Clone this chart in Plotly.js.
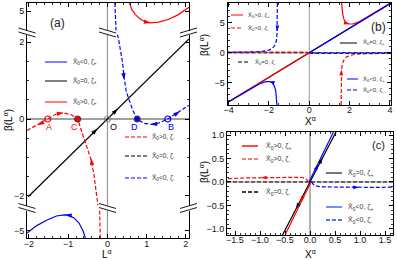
<!DOCTYPE html>
<html><head><meta charset="utf-8">
<script src="https://cdn.plot.ly/plotly-3.0.1.min.js"></script>
<style>html,body{margin:0;padding:0;background:#fff}#chart{width:397px;height:260px}</style>
</head><body><div id="chart"></div>
<script>
// ---------------- DATA ----------------
// Panel (a): beta(L) vs L, broken y axis
const aDiagL = [-2.02, 2.08];
const aDiagB = [-2.02, 2.08];
const aRedDashL = [-2.05, -1.8, -1.52, -1.3, -1.12, -0.92, -0.76, -0.68, -0.6, -0.5, -0.42, -0.35, -0.3, -0.26, -0.24];
const aRedDashB = [-0.3, -0.16, 0, 0.13, 0.16, 0.11, 0, -0.25, -0.5, -0.8, -1.05, -1.4, -1.75, -2.1, -2.25];
const aRedDashLowL = [-0.2, -0.18];
const aRedDashLowB = [-4.47, -5.18];
const aBlueDashL = [0.25, 0.28, 0.33, 0.38, 0.43, 0.48, 0.56, 0.65, 0.76, 0.92, 1.12, 1.32, 1.54, 1.8, 2.08];
const aBlueDashB = [2.2, 2.1, 1.8, 1.5, 1.05, 0.72, 0.47, 0.22, 0, -0.11, -0.14, -0.1, 0, 0.17, 0.36];
const aBlueDashTopL = [0.19, 0.22];
const aBlueDashTopB = [5.21, 4.49];
const aRedSolidTopL = [0.56, 0.62, 0.72, 0.85, 1.0, 1.1, 1.3, 1.55, 1.8, 2.08];
const aRedSolidTopB = [5.22, 5.04, 4.9, 4.78, 4.71, 4.69, 4.71, 4.78, 4.9, 5.1];
const aBlueSolidLowL = [-0.56, -0.62, -0.72, -0.85, -1.0, -1.1, -1.3, -1.55, -1.8, -2.05];
const aBlueSolidLowB = [-5.19, -5.0, -4.8, -4.66, -4.59, -4.58, -4.61, -4.72, -4.86, -5.05];
const aPtL = [-1.52, -0.76, 0, 0.76, 1.54];
const aPtB = [0, 0, 0, 0, 0];
const aPtLabels = ['A', 'C', 'O', 'D', 'B'];
// arrows: [tailX, tailY, headX, headY]
const aArrBlack = [[0.15, 0.15, 0.27, 0.27], [-0.37, -0.37, -0.25, -0.25]];
const aArrRedDash = [[-1.65, -0.09, -1.78, -0.16], [-1.25, 0.14, -1.12, 0.16], [-0.38, -1.25, -0.42, -1.02]];
const aArrBlueDash = [[0.4, 1.25, 0.43, 1.02], [1.25, -0.13, 1.1, -0.14], [1.7, 0.1, 1.85, 0.2]];
const aArrRedTop = [[0.95, 4.72, 1.1, 4.69]];
const aArrBlueLow = [[-0.93, -4.6, -1.08, -4.58]];

// Panel (b): beta vs X (wide)
const bDiagX = [-4.05, 4.05];
const bDiagB = [-8.3, 8.3];
const bRedDiagX = [-4.05, 0];
const bRedDiagB = [-8.3, 0];
const bRedSolidX = [1.6, 1.62, 1.66, 1.72, 1.82, 1.95, 2.15, 2.45, 2.9, 3.5, 4.05];
const bRedSolidB = [8.3, 7.4, 6.4, 5.6, 5.05, 4.8, 4.8, 5.15, 6.0, 7.2, 8.3];
const bBlueDiagX = [0, 4.05];
const bBlueDiagB = [0, 8.3];
const bBlueSolidX = [-1.6, -1.62, -1.66, -1.72, -1.82, -1.95, -2.15, -2.45, -2.9, -3.5, -4.05];
const bBlueSolidB = [-8.7, -7.4, -6.4, -5.6, -5.05, -4.8, -4.8, -5.15, -6.0, -7.2, -8.3];
const bBlueDashX = [-1.58, -1.58, -1.6, -1.63, -1.7, -1.82, -2.0, -2.3, -2.8, -4.05];
const bBlueDashB = [8.3, 5, 3, 2, 1.3, 0.75, 0.45, 0.25, 0.15, 0.08];
const bBlueDashRX = [0, 0.1, 0.3, 1, 4.05];
const bBlueDashRB = [0, -0.08, -0.1, -0.11, -0.1];
const bRedDashX = [1.58, 1.58, 1.6, 1.63, 1.7, 1.82, 2.0, 2.3, 2.8, 4.05];
const bRedDashB = [-8.7, -5, -3, -2, -1.3, -0.75, -0.45, -0.25, -0.15, -0.08];
const bRedDashLX = [0, -0.1, -0.3, -1, -4.05];
const bRedDashLB = [0, 0.08, 0.1, 0.11, 0.1];
const bBlackDashX = [-4.05, 4.05];
const bBlackDashB = [0, 0];
const bArrBlueDash = [[-1.58, 4.6, -1.58, 3.6]];
const bArrRedDash = [[1.58, -3.9, 1.6, -2.8]];
const bArrRedSolid = [[1.85, 4.9, 2.0, 4.78]];
const bArrBlueSolid = [[-1.85, -4.9, -2.0, -4.78]];

// Panel (c): beta vs X (zoom near origin)
const cBlackX = [-0.55, 0.52];
const cBlackB = [-1.13, 1.065];
const cBlueX = [-0.02, 0.47];
const cBlueB = [0, 1.065];
const cRedX = [0.02, -0.5];
const cRedB = [0, -1.13];
const cRedDashX = [-0.03, -0.06, -0.1, -0.16, -0.25, -0.5, -0.9, -1.3, -1.66];
const cRedDashB = [0, 0.045, 0.075, 0.095, 0.1, 0.1, 0.095, 0.085, 0.07];
const cBlueDashX = [0.03, 0.06, 0.1, 0.16, 0.25, 0.5, 0.9, 1.3, 1.66];
const cBlueDashB = [0, -0.045, -0.075, -0.095, -0.105, -0.11, -0.115, -0.115, -0.11];
const cBlackDashX = [-1.66, 1.66];
const cBlackDashB = [0, 0];
const cArrBlack = [[0.18, 0.37, 0.25, 0.51], [-0.21, -0.43, -0.28, -0.57]];
const cArrBlue = [[0.1, 0.24, 0.16, 0.37]];
const cArrRed = [[-0.13, -0.28, -0.19, -0.42]];
const cArrRedDash = [[-0.8, 0.097, -0.98, 0.092]];
const cArrBlueDash = [[0.8, -0.115, 0.98, -0.115]];

// legend labels
const legA1 = ['X\u0304<sub>0</sub>&lt;0, ζ<sub>+</sub>', 'X\u0304<sub>0</sub>=0, ζ<sub>+</sub>', 'X\u0304<sub>0</sub>&gt;0, ζ<sub>+</sub>'];
const legA2 = ['X\u0304<sub>0</sub>&gt;0, ζ<sub>-</sub>', 'X\u0304<sub>0</sub>=0, ζ<sub>-</sub>', 'X\u0304<sub>0</sub>&lt;0, ζ<sub>-</sub>'];

// ---------------- STYLE / LAYOUT ----------------
const W = 397, H = 260;
const PX = x => x / W, PY = y => 1 - y / H;
const FONT = 'Liberation Sans, Arial, sans-serif';
const RED = '#ff0000', BLUE = '#0000ff', BLK = '#000000';
const DASH = '4px,2px';
const LW = 1.2;

function line(x, y, color, dash, xa, ya, w) {
  return {type: 'scatter', mode: 'lines', x: x, y: y, xaxis: xa, yaxis: ya,
    line: {color: color, width: w || LW, dash: dash || 'solid'}, hoverinfo: 'skip', showlegend: false};
}
function arrows(list, color, xa, ya, sz) {
  return list.map(a => ({type: 'scatter', mode: 'markers', x: [a[0], a[2]], y: [a[1], a[3]], xaxis: xa, yaxis: ya,
    marker: {symbol: 'arrow', angleref: 'previous', size: [1, sz || 7], opacity: [0, 1], color: color, line: {width: 0}},
    hoverinfo: 'skip', showlegend: false, cliponaxis: false}));
}

let traces = [];
// panel a
traces.push(line(aDiagL, aDiagB, BLK, null, 'x', 'y2'));
traces.push(line(aRedDashL, aRedDashB, RED, DASH, 'x', 'y2'));
traces.push(line(aRedDashLowL, aRedDashLowB, RED, DASH, 'x', 'y'));
traces.push(line(aBlueDashL, aBlueDashB, BLUE, DASH, 'x', 'y2'));
traces.push(line(aBlueDashTopL, aBlueDashTopB, BLUE, DASH, 'x2', 'y3'));
traces.push(line(aRedSolidTopL, aRedSolidTopB, RED, null, 'x2', 'y3'));
traces.push(line(aBlueSolidLowL, aBlueSolidLowB, BLUE, null, 'x', 'y'));
traces.push({type: 'scatter', mode: 'markers', x: aPtL, y: aPtB, xaxis: 'x', yaxis: 'y2',
  marker: {symbol: ['circle-open', 'circle', 'circle-open', 'circle', 'circle-open'], size: 6,
    color: [RED, RED, '#888888', BLUE, BLUE], line: {width: 1.2}}, hoverinfo: 'skip', showlegend: false, cliponaxis: false});
traces = traces.concat(arrows(aArrBlack, BLK, 'x', 'y2'));
traces = traces.concat(arrows(aArrRedDash, RED, 'x', 'y2'));
traces = traces.concat(arrows(aArrBlueDash, BLUE, 'x', 'y2'));
traces = traces.concat(arrows(aArrRedTop, RED, 'x2', 'y3'));
traces = traces.concat(arrows(aArrBlueLow, BLUE, 'x', 'y'));
// panel b
traces.push(line(bBlackDashX, bBlackDashB, BLK, DASH, 'x3', 'y4', 1));
traces.push(line(bDiagX, bDiagB, BLK, null, 'x3', 'y4'));
traces.push(line(bRedDiagX, bRedDiagB, RED, null, 'x3', 'y4'));
traces.push(line(bRedSolidX, bRedSolidB, RED, null, 'x3', 'y4'));
traces.push(line(bRedDashX, bRedDashB, RED, DASH, 'x3', 'y4'));
traces.push(line(bRedDashLX, bRedDashLB, RED, DASH, 'x3', 'y4'));
traces.push(line(bBlueDiagX, bBlueDiagB, BLUE, null, 'x3', 'y4'));
traces.push(line(bBlueSolidX, bBlueSolidB, BLUE, null, 'x3', 'y4'));
traces.push(line(bBlueDashX, bBlueDashB, BLUE, DASH, 'x3', 'y4'));
traces.push(line(bBlueDashRX, bBlueDashRB, BLUE, DASH, 'x3', 'y4'));
traces = traces.concat(arrows(bArrBlueDash, BLUE, 'x3', 'y4', 6));
traces = traces.concat(arrows(bArrRedDash, RED, 'x3', 'y4', 6));
traces = traces.concat(arrows(bArrRedSolid, RED, 'x3', 'y4', 6));
traces = traces.concat(arrows(bArrBlueSolid, BLUE, 'x3', 'y4', 6));
// panel c
traces.push(line(cBlackDashX, cBlackDashB, BLK, DASH, 'x4', 'y5', 1));
traces.push(line(cBlackX, cBlackB, BLK, null, 'x4', 'y5'));
traces.push(line(cRedX, cRedB, RED, null, 'x4', 'y5'));
traces.push(line(cBlueX, cBlueB, BLUE, null, 'x4', 'y5'));
traces.push(line(cRedDashX, cRedDashB, RED, DASH, 'x4', 'y5'));
traces.push(line(cBlueDashX, cBlueDashB, BLUE, DASH, 'x4', 'y5'));
traces = traces.concat(arrows(cArrBlack, BLK, 'x4', 'y5', 6));
traces = traces.concat(arrows(cArrBlue, BLUE, 'x4', 'y5', 6));
traces = traces.concat(arrows(cArrRed, RED, 'x4', 'y5', 6));
traces = traces.concat(arrows(cArrRedDash, RED, 'x4', 'y5', 6));
traces = traces.concat(arrows(cArrBlueDash, BLUE, 'x4', 'y5', 6));

const tickFont = {family: FONT, size: 9, color: '#111'};
function ax(o) {
  return Object.assign({showgrid: false, zeroline: false, showline: true, linecolor: '#000', linewidth: 1,
    ticks: 'inside', ticklen: 4, tickwidth: 1, tickcolor: '#000', tickfont: tickFont, automargin: false,
    fixedrange: true}, o);
}
const minor = (d, len) => ({dtick: d, ticks: 'inside', ticklen: len || 2, tickcolor: '#000', tickwidth: 0.8});

const layout = {
  width: W, height: H, margin: {l: 0, r: 0, t: 0, b: 0}, paper_bgcolor: '#fff', plot_bgcolor: 'rgba(0,0,0,0)',
  showlegend: false, font: {family: FONT},
  // panel a
  xaxis: ax({domain: [PX(27), PX(189)], range: [-2.05, 2.08], anchor: 'y', dtick: 1, tick0: 0, minor: minor(0.2), ticklabelstandoff: -3}),
  xaxis2: ax({domain: [PX(27), PX(189)], range: [-2.05, 2.08], anchor: 'y3', side: 'top', dtick: 1, tick0: 0, showticklabels: false, minor: minor(0.2)}),
  yaxis: ax({domain: [PY(238), PY(210.5)], range: [-5.182, -4.468], anchor: 'x', dtick: 5, tick0: 0, mirror: 'ticks'}),
  yaxis2: ax({domain: [PY(205.5), PY(34.5)], range: [-2.247, 2.195], anchor: 'x', dtick: 2, tick0: 0, mirror: 'ticks', minor: minor(0.5)}),
  yaxis3: ax({domain: [PY(30.5), PY(3)], range: [4.494, 5.208], anchor: 'x2', dtick: 5, tick0: 0, mirror: 'ticks'}),
  // panel b
  xaxis3: ax({domain: [PX(227.5), PX(391)], range: [-4.05, 4.05], anchor: 'y4', dtick: 2, tick0: 0, mirror: 'ticks', minor: minor(0.5), ticklabelstandoff: -4}),
  yaxis4: ax({domain: [PY(105), PY(3)], range: [-8.7, 8.3], anchor: 'x3', dtick: 5, tick0: 0, mirror: 'ticks', minor: minor(1)}),
  // panel c
  xaxis4: ax({domain: [PX(227), PX(393)], range: [-1.66, 1.66], anchor: 'y5', dtick: 0.5, tick0: 0, tickformat: '.1f', mirror: 'ticks', minor: minor(0.1), ticklabelstandoff: -4}),
  yaxis5: ax({domain: [PY(235), PY(132)], range: [-1.13, 1.065], anchor: 'x4', dtick: 0.5, tick0: 0, tickformat: '.1f', mirror: 'ticks', minor: minor(0.1)}),
  shapes: [], annotations: []
};

const S = layout.shapes, A = layout.annotations;
// zero lines
S.push({type: 'line', layer: 'below', xref: 'x domain', x0: 0, x1: 1, yref: 'y2', y0: 0, y1: 0, line: {color: '#444', width: 1}});
S.push({type: 'line', layer: 'below', xref: 'x', x0: 0, x1: 0, yref: 'y domain', y0: 0, y1: 1, line: {color: '#888', width: 1}});
S.push({type: 'line', layer: 'below', xref: 'x', x0: 0, x1: 0, yref: 'y2 domain', y0: 0, y1: 1, line: {color: '#888', width: 1}});
S.push({type: 'line', layer: 'below', xref: 'x2', x0: 0, x1: 0, yref: 'y3 domain', y0: 0, y1: 1, line: {color: '#888', width: 1}});
S.push({type: 'line', layer: 'below', xref: 'x3 domain', x0: 0, x1: 1, yref: 'y4', y0: 0, y1: 0, line: {color: '#999', width: 1}});
S.push({type: 'line', layer: 'below', xref: 'x3', x0: 0, x1: 0, yref: 'y4 domain', y0: 0, y1: 1, line: {color: '#999', width: 1}});
S.push({type: 'line', layer: 'below', xref: 'x4 domain', x0: 0, x1: 1, yref: 'y5', y0: 0, y1: 0, line: {color: '#999', width: 1}});
S.push({type: 'line', layer: 'below', xref: 'x4', x0: 0, x1: 0, yref: 'y5 domain', y0: 0, y1: 1, line: {color: '#666', width: 1}});
// break marks (pixel positioned)
function brk(cx, cy, dir) {
  [-2, 2].forEach(o => {
    S.push({type: 'line', xref: 'paper', yref: 'paper', x0: PX(cx - 8.5), x1: PX(cx + 8.5),
      y0: PY(cy + o - 2.5 * dir), y1: PY(cy + o + 2.5 * dir), line: {color: '#000', width: 0.9}});
  });
}
brk(27, 32.5, 1); brk(107.5, 32.5, 1); brk(188.5, 32.5, -1);
brk(27, 208, 1); brk(107.5, 208, 1); brk(188.5, 208, -1);

// legend helpers
function leg(x0, x1, y, color, dash, tx, text, size, w) {
  S.push({type: 'line', xref: 'paper', yref: 'paper', x0: PX(x0), x1: PX(x1), y0: PY(y), y1: PY(y),
    line: {color: color, width: w || 1, dash: dash || 'solid'}});
  A.push({xref: 'paper', yref: 'paper', x: PX(tx), y: PY(y), xanchor: 'left', yanchor: 'middle', showarrow: false,
    text: text, font: {family: FONT, size: size, color: '#333'}});
}
// panel a legends
leg(45, 67, 62, BLUE, null, 71, legA1[0], 6.5);
leg(45, 67, 81, BLK, null, 71, legA1[1], 6.5);
leg(45, 67, 102, RED, null, 71, legA1[2], 6.5);
leg(125, 147, 137, RED, DASH, 150, legA2[0], 6.5);
leg(125, 147, 156, BLK, DASH, 150, legA2[1], 6.5);
leg(125, 147, 178, BLUE, DASH, 150, legA2[2], 6.5);
// panel b legends
leg(231, 243, 15, RED, null, 246, legA1[2], 6);
leg(231, 243, 28, RED, DASH, 246, legA2[0], 6);
leg(340, 357, 43, BLK, null, 361, legA1[1], 6);
leg(238, 250, 62, BLK, DASH, 253, legA2[1], 6);
leg(347, 358, 79, BLUE, null, 361, legA1[0], 6);
leg(347, 358, 90, BLUE, DASH, 361, legA2[2], 6);
// panel c legends
leg(242, 258, 146, '#ff2020', null, 264, legA1[2], 7, 1.6);
leg(242, 258, 159, '#ff5050', DASH, 264, legA2[0], 7, 1.6);
leg(326, 342, 173, '#555', null, 346, legA1[1], 7, 1.6);
leg(242, 258, 192, BLK, DASH, 264, legA2[1], 7, 1.3);
leg(326, 342, 207, '#5070ff', null, 346, legA1[0], 7, 1.6);
leg(326, 342, 220, '#2040ff', DASH, 346, legA2[2], 7, 1.3);

// panel labels
function txt(x, y, t, size, color, angle) {
  A.push({xref: 'paper', yref: 'paper', x: PX(x), y: PY(y), xanchor: 'center', yanchor: 'middle', showarrow: false,
    text: t, textangle: angle || 0, font: {family: FONT, size: size, color: color || '#000'}});
}
txt(57, 23, '(a)', 12, '#222');
txt(378, 27, '(b)', 12, '#222');
txt(378, 145, '(c)', 11, '#222');
txt(8, 120, 'β(L<sup>α</sup>)', 10, '#000', -90);
txt(107, 254, 'L<sup>α</sup>', 10);
txt(204, 45, 'β(L<sup>α</sup>)', 10, '#000', -90);
txt(310, 121, 'X<sup>α</sup>', 10);
txt(204, 172, 'β(L<sup>α</sup>)', 10, '#000', -90);
txt(310, 254, 'X<sup>α</sup>', 10);
// point labels
const ptColors = [RED, RED, '#000', BLUE, BLUE];
const ptShift = [1, -3, 6, -3, 3];
aPtL.forEach((L, i) => {
  A.push({xref: 'x', yref: 'y2', x: L, y: aPtB[i], yshift: -8, xshift: ptShift[i], showarrow: false, text: aPtLabels[i],
    font: {family: FONT, size: 9, color: ptColors[i]}});
});

Plotly.newPlot('chart', traces, layout, {staticPlot: true, displayModeBar: false});
</script></body></html>
